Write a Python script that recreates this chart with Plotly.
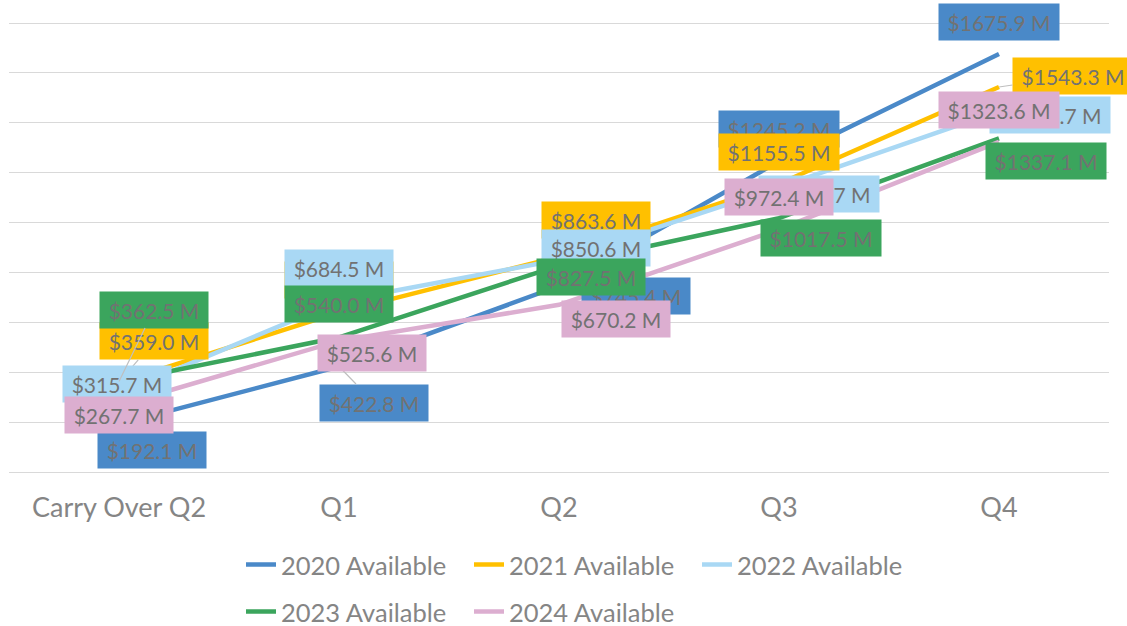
import plotly.graph_objects as go

categories = ["Carry Over Q2", "Q1", "Q2", "Q3", "Q4"]
series_names = ["2020 Available", "2021 Available", "2022 Available", "2023 Available", "2024 Available"]
v2020 = [192.1, 422.8, 745.4, 1245.2, 1675.9]
v2021 = [359.0, 640.0, 863.6, 1155.5, 1543.3]
v2022 = [315.7, 684.5, 850.6, 1140.7, 1446.7]
v2023 = [362.5, 540.0, 827.5, 1017.5, 1337.1]
v2024 = [267.7, 525.6, 670.2, 972.4, 1323.6]
values = [v2020, v2021, v2022, v2023, v2024]

colors = ["#4A89C8", "#FFC000", "#A9D8F4", "#3BA55D", "#DCAED0"]

# label offsets in screen pixels (dx right, dy down) and whether a leader line is drawn
label_offsets = [
    [(33, 26, False), (35, 36, True), (77, 10, False), (0, -32, False), (0, -32, False)],
    [(35, -41, True), (0, -32, False), (37, -37, False), (0, -32, False), (74, -11, True)],
    [(-2, -9, False), (0, -33, False), (37, -12, False), (40, 7, False), (51, 4, False)],
    [(35, -72, True), (0, -33, False), (32, 11, False), (42, 20, False), (47, 23, False)],
    [(0, 10, False), (33, 12, False), (57, 14, False), (0, -32, False), (0, -32, False)],
]

FONT = "Lato"
LABEL_COLOR = "#727272"
AXIS_COLOR = "#858585"
W, H = 1127, 626

fig = go.Figure()
for i, (name, vals, col) in enumerate(zip(series_names, values, colors)):
    fig.add_trace(go.Scatter(
        x=categories, y=vals, mode="lines", name=name,
        line=dict(color=col, width=4.5),
        legend="legend" if i < 3 else "legend2",
        hoverinfo="skip",
    ))

annotations = []
for s, (vals, col) in enumerate(zip(values, colors)):
    for c, (cat, v) in enumerate(zip(categories, vals)):
        dx, dy, leader = label_offsets[s][c]
        txt = f"${v:.1f} M"
        w = 120 if v >= 1000 else 108
        a = dict(
            x=cat, y=v, xref="x", yref="y", text=txt,
            font=dict(family=FONT, size=21, color=LABEL_COLOR),
            bgcolor=col, borderpad=0, width=w, height=36,
        )
        if leader:
            a.update(showarrow=True, ax=dx, ay=dy, axref="pixel", ayref="pixel",
                     arrowhead=0, arrowwidth=1.2, arrowcolor="#BFBFBF", standoff=0)
        else:
            a.update(showarrow=False, xshift=dx, yshift=-dy,
                     xanchor="center", yanchor="middle")
        annotations.append(a)

legend_common = dict(
    orientation="h", xref="container", yref="container",
    x=241 / W, xanchor="left", yanchor="middle",
    font=dict(size=25.5, color=AXIS_COLOR), entrywidth=183, entrywidthmode="pixels",
    bgcolor="rgba(0,0,0,0)", itemclick=False, itemdoubleclick=False,
)

fig.update_layout(
    width=W, height=H,
    margin=dict(l=9, r=18, t=20.7, b=152, autoexpand=False),
    paper_bgcolor="white", plot_bgcolor="white",
    font=dict(family=FONT, color=AXIS_COLOR),
    annotations=annotations,
    xaxis=dict(
        type="category", range=[-0.5, 4.5], showgrid=False, zeroline=False,
        showline=False, ticks="", tickfont=dict(size=27, color=AXIS_COLOR),
        ticklabelstandoff=15,
    ),
    yaxis=dict(
        range=[-8, 1808], tickvals=list(range(0, 2000, 200)), showgrid=True,
        gridcolor="#D9D9D9", gridwidth=1.3, zeroline=False, showline=False,
        showticklabels=False, ticks="",
    ),
    legend=dict(legend_common, y=(H - 565) / H),
    legend2=dict(legend_common, y=(H - 612) / H),
    hovermode=False,
)

fig.write_html(
    "out.html",
    config={"displayModeBar": False},
    post_script="document.body.style.margin='0';document.body.style.overflow='hidden';",
)
